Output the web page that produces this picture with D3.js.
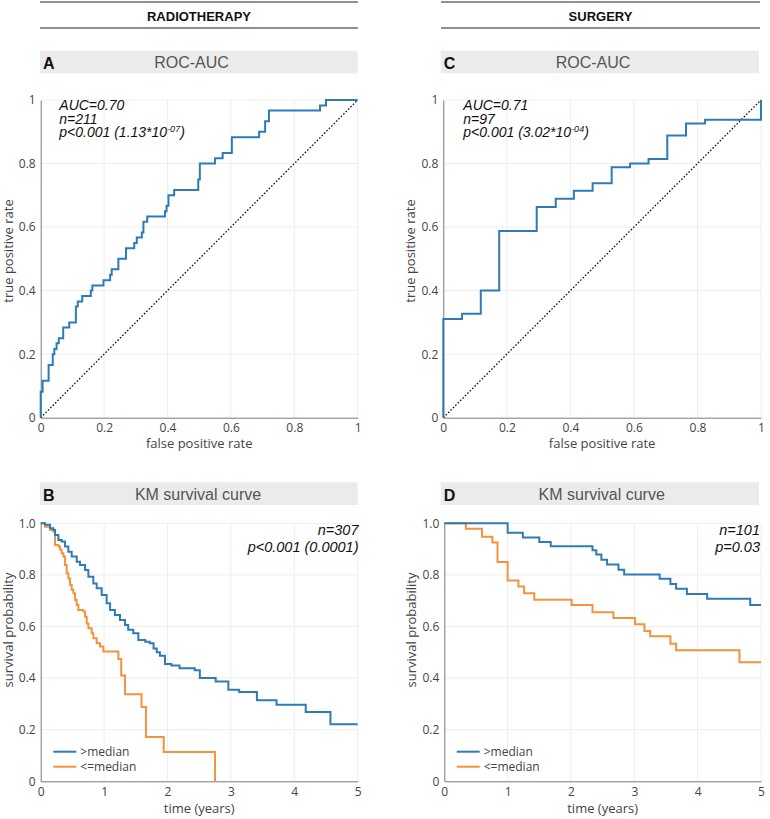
<!DOCTYPE html>
<html><head><meta charset="utf-8">
<script src="https://cdn.jsdelivr.net/npm/d3@7"></script>
<style>body{margin:0;background:#fff}</style>
</head><body><svg id="c" width="770" height="819"></svg>
<script>
// ---------------- data ----------------
const rocA_fpr = [0,0,0.006,0.025,0.038,0.043,0.05,0.057,0.071,0.09,0.111,0.117,0.131,0.158,0.163,0.198,0.219,0.224,0.245,0.269,0.295,0.303,0.319,0.324,0.336,0.392,0.397,0.403,0.421,0.497,0.502,0.55,0.574,0.603,0.689,0.708,0.72,0.881,0.9,1.0];
const rocA_tpr = [0,0.082,0.116,0.166,0.2,0.216,0.234,0.25,0.284,0.3,0.35,0.366,0.383,0.4,0.416,0.433,0.45,0.467,0.5,0.533,0.55,0.567,0.583,0.617,0.633,0.65,0.667,0.7,0.717,0.75,0.8,0.817,0.833,0.883,0.9,0.933,0.967,0.983,1.0,1.0];
const rocC_fpr = [0,0,0.059,0.118,0.176,0.294,0.354,0.411,0.47,0.53,0.588,0.646,0.705,0.764,0.824,1.0];
const rocC_tpr = [0,0.311,0.327,0.4,0.588,0.663,0.689,0.714,0.738,0.788,0.8,0.814,0.888,0.926,0.938,1.0];

const kmB_hi_t = [0,0.068,0.147,0.2,0.226,0.279,0.331,0.384,0.436,0.489,0.568,0.62,0.7,0.752,0.83,0.883,0.962,1.04,1.094,1.17,1.25,1.33,1.38,1.46,1.54,1.65,1.72,1.78,1.83,1.88,1.96,2.06,2.19,2.43,2.51,2.76,2.96,3.13,3.41,3.72,4.18,4.57,5.0];
const kmB_hi_s = [1,0.994,0.981,0.974,0.955,0.935,0.929,0.91,0.89,0.871,0.851,0.838,0.819,0.793,0.767,0.748,0.722,0.69,0.664,0.645,0.625,0.606,0.587,0.574,0.548,0.541,0.535,0.515,0.5,0.487,0.455,0.449,0.438,0.43,0.4,0.387,0.355,0.346,0.314,0.297,0.269,0.221,0.221];
const kmB_lo_t = [0,0.068,0.147,0.2,0.226,0.279,0.305,0.331,0.357,0.384,0.41,0.436,0.463,0.489,0.515,0.542,0.568,0.594,0.673,0.7,0.726,0.752,0.804,0.83,0.883,0.936,0.988,1.225,1.27,1.33,1.59,1.66,1.94,2.75];
const kmB_lo_s = [1,0.987,0.974,0.968,0.916,0.91,0.897,0.884,0.871,0.838,0.806,0.787,0.761,0.742,0.729,0.703,0.683,0.664,0.658,0.638,0.612,0.593,0.574,0.554,0.535,0.522,0.503,0.474,0.41,0.337,0.288,0.172,0.114,0.0];

const kmD_hi_t = [0,1.0,1.24,1.5,1.68,2.34,2.4,2.48,2.57,2.75,2.84,3.4,3.57,3.66,3.83,4.15,4.83,5.0];
const kmD_hi_s = [1,0.963,0.945,0.928,0.911,0.896,0.879,0.859,0.84,0.82,0.802,0.785,0.765,0.746,0.726,0.708,0.683,0.683];
const kmD_lo_t = [0,0.34,0.595,0.76,0.84,1.0,1.17,1.26,1.42,2.01,2.34,2.67,3.01,3.16,3.25,3.57,3.66,4.66,5.0];
const kmD_lo_s = [1,0.979,0.948,0.926,0.85,0.778,0.755,0.729,0.704,0.683,0.655,0.633,0.609,0.583,0.562,0.533,0.508,0.461,0.461];

const rocTicks = [0,0.2,0.4,0.6,0.8,1];
const rocTickLabels = ["0","0.2","0.4","0.6","0.8","1"];
const kmXTicks = [0,1,2,3,4,5];
const kmXTickLabels = ["0","1","2","3","4","5"];
const kmYTicks = [0,0.2,0.4,0.6,0.8,1.0];
const kmYTickLabels = ["0","0.2","0.4","0.6","0.8","1.0"];
const legendLabels = [">median","<=median"];

// ---------------- style ----------------
const BLUE = "#2e7bb5", ORANGE = "#f5923d";
const SANS = "'Liberation Sans', Arial, Helvetica, sans-serif";
const OPEN = "'Open Sans', 'DejaVu Sans', sans-serif";
const svg = d3.select("#c");

function header(x0, x1, label) {
  svg.append("line").attr("x1",x0).attr("x2",x1).attr("y1",2).attr("y2",2).attr("stroke","#222").attr("stroke-width",1.2);
  svg.append("line").attr("x1",x0).attr("x2",x1).attr("y1",28).attr("y2",28).attr("stroke","#222").attr("stroke-width",1.2);
  svg.append("text").attr("x",(x0+x1)/2).attr("y",20.5).attr("text-anchor","middle")
    .attr("font-family",SANS).attr("font-weight","bold").attr("font-size",13).attr("fill","#111").text(label);
}
function titleBar(x0, x1, y0, y1, letter, title, tx) {
  svg.append("rect").attr("x",x0).attr("y",y0).attr("width",x1-x0).attr("height",y1-y0).attr("fill","#ebebeb");
  svg.append("text").attr("x",x0+3).attr("y",y1-4.5).attr("font-family",SANS).attr("font-weight","bold")
    .attr("font-size",16).attr("fill","#111").text(letter);
  svg.append("text").attr("x",tx).attr("y",y1-5.5).attr("text-anchor","middle").attr("font-family",SANS)
    .attr("font-size",16).attr("fill","#555").text(title);
}

function plot(o) {
  const x = d3.scaleLinear().domain(o.xDomain).range([o.x0, o.x1]);
  const y = d3.scaleLinear().domain(o.yDomain).range([o.y0, o.y1]);
  const g = svg.append("g");
  // grid
  g.append("g").selectAll("line").data(o.xTicks.filter(d=>d!==o.xDomain[0])).join("line")
    .attr("x1",d=>x(d)).attr("x2",d=>x(d)).attr("y1",o.y0).attr("y2",o.y1).attr("stroke","#eeeeee").attr("stroke-width",1);
  g.append("g").selectAll("line").data(o.yTicks.filter(d=>d!==o.yDomain[0])).join("line")
    .attr("y1",d=>y(d)).attr("y2",d=>y(d)).attr("x1",o.x0).attr("x2",o.x1).attr("stroke","#eeeeee").attr("stroke-width",1);
  // axes
  const ya = d3.axisLeft(y).tickValues(o.yTicks).tickFormat((d,i)=>o.yLabels[i]).tickSize(0).tickPadding(5);
  const xa = d3.axisBottom(x).tickValues(o.xTicks).tickFormat((d,i)=>o.xLabels[i]).tickSize(0).tickPadding(6);
  const gy = g.append("g").attr("transform",`translate(${o.x0},0)`).call(ya);
  const gx = g.append("g").attr("transform",`translate(0,${o.y0})`).call(xa);
  [gy,gx].forEach(a=>{
    a.select(".domain").attr("stroke","#7a7a7a").attr("stroke-width",1);
    a.selectAll("text").attr("font-family",OPEN).attr("font-size",12).attr("fill","#444");
  });
  // axis titles
  g.append("text").attr("x",(o.x0+o.x1)/2).attr("y",o.y0+o.xTitleDy).attr("text-anchor","middle")
    .attr("font-family",OPEN).attr("font-size",13).attr("fill","#444").text(o.xTitle);
  g.append("text").attr("transform",`translate(${o.x0-28},${o.yTitleY}) rotate(-90)`).attr("text-anchor","middle")
    .attr("font-family",OPEN).attr("font-size",13).attr("fill","#444").text(o.yTitle);
  return {g,x,y};
}

function stepLine(p, xs, ys, color) {
  const pts = xs.map((v,i)=>[v, ys[i]]);
  const line = d3.line().x(d=>p.x(d[0])).y(d=>p.y(d[1])).curve(d3.curveStepAfter);
  p.g.append("path").datum(pts).attr("d",line).attr("fill","none").attr("stroke",color).attr("stroke-width",2);
}
function diag(p) {
  p.g.append("line").attr("x1",p.x(0)).attr("y1",p.y(0)).attr("x2",p.x(1)).attr("y2",p.y(1))
    .attr("stroke","#111").attr("stroke-width",1.3).attr("stroke-dasharray","1.6,1.8");
}
function rocNote(x, lines, sup) {
  const t = svg.append("text").attr("font-family",SANS).attr("font-style","italic").attr("font-size",14).attr("fill","#111");
  t.append("tspan").attr("x",x).attr("y",110).text(lines[0]);
  t.append("tspan").attr("x",x).attr("y",123.5).text(lines[1]);
  t.append("tspan").attr("x",x).attr("y",137).text(lines[2]);
  t.append("tspan").attr("font-size",9).attr("dy",-5.5).text(sup);
  t.append("tspan").attr("dy",5.5).text(")");
}
function kmNote(x, lines) {
  const t = svg.append("text").attr("font-family",SANS).attr("font-style","italic").attr("font-size",14.5).attr("fill","#111").attr("text-anchor","end");
  t.append("tspan").attr("x",x).attr("y",535).text(lines[0]);
  t.append("tspan").attr("x",x).attr("y",552).text(lines[1]);
}
function legend(x, y) {
  [BLUE, ORANGE].forEach((c,i)=>{
    svg.append("line").attr("x1",x).attr("x2",x+23).attr("y1",y+i*15).attr("y2",y+i*15).attr("stroke",c).attr("stroke-width",2);
    svg.append("text").attr("x",x+27).attr("y",y+i*15+4.3).attr("font-family",OPEN).attr("font-size",12).attr("fill","#444").text(legendLabels[i]);
  });
}

// headers
header(40, 358, "RADIOTHERAPY");
header(441, 760, "SURGERY");
titleBar(40, 357.7, 50.7, 73.3, "A", "ROC-AUC", 191.5);
titleBar(440.7, 759, 50.7, 73.3, "C", "ROC-AUC", 593);
titleBar(40, 357.7, 482.3, 505, "B", "KM survival curve", 198);
titleBar(440.7, 759, 482.3, 505, "D", "KM survival curve", 601.7);

const rocOpts = {xDomain:[0,1],yDomain:[0,1],xTicks:rocTicks,xLabels:rocTickLabels,yTicks:rocTicks,yLabels:rocTickLabels,
  xTitle:"false positive rate",yTitle:"true positive rate",xTitleDy:30.5,yTitleY:251,y0:417.7,y1:100};
const kmOpts = {xDomain:[0,5],yDomain:[0,1],xTicks:kmXTicks,xLabels:kmXTickLabels,yTicks:kmYTicks,yLabels:kmYTickLabels,
  xTitle:"time (years)",yTitle:"survival probability",xTitleDy:32,yTitleY:630,y0:781.3,y1:523.3};

// panel A
const pA = plot(Object.assign({}, rocOpts, {x0:40.7,x1:357.7}));
diag(pA); stepLine(pA, rocA_fpr, rocA_tpr, BLUE);
rocNote(59.3, ["AUC=0.70","n=211","p<0.001 (1.13*10"], "-07");

// panel C
const pC = plot(Object.assign({}, rocOpts, {x0:443.3,x1:761}));
diag(pC); stepLine(pC, rocC_fpr, rocC_tpr, BLUE);
rocNote(463.3, ["AUC=0.71","n=97","p<0.001 (3.02*10"], "-04");

// panel B
const pB = plot(Object.assign({}, kmOpts, {x0:40.7,x1:357.7}));
stepLine(pB, kmB_lo_t, kmB_lo_s, ORANGE);
stepLine(pB, kmB_hi_t, kmB_hi_s, BLUE);
kmNote(358.5, ["n=307","p<0.001 (0.0001)"]);
legend(53.3, 751.7);

// panel D
const pD = plot(Object.assign({}, kmOpts, {x0:444.3,x1:761}));
stepLine(pD, kmD_lo_t, kmD_lo_s, ORANGE);
stepLine(pD, kmD_hi_t, kmD_hi_s, BLUE);
kmNote(760, ["n=101","p=0.03"]);
legend(456.7, 751.7);
</script></body></html>
